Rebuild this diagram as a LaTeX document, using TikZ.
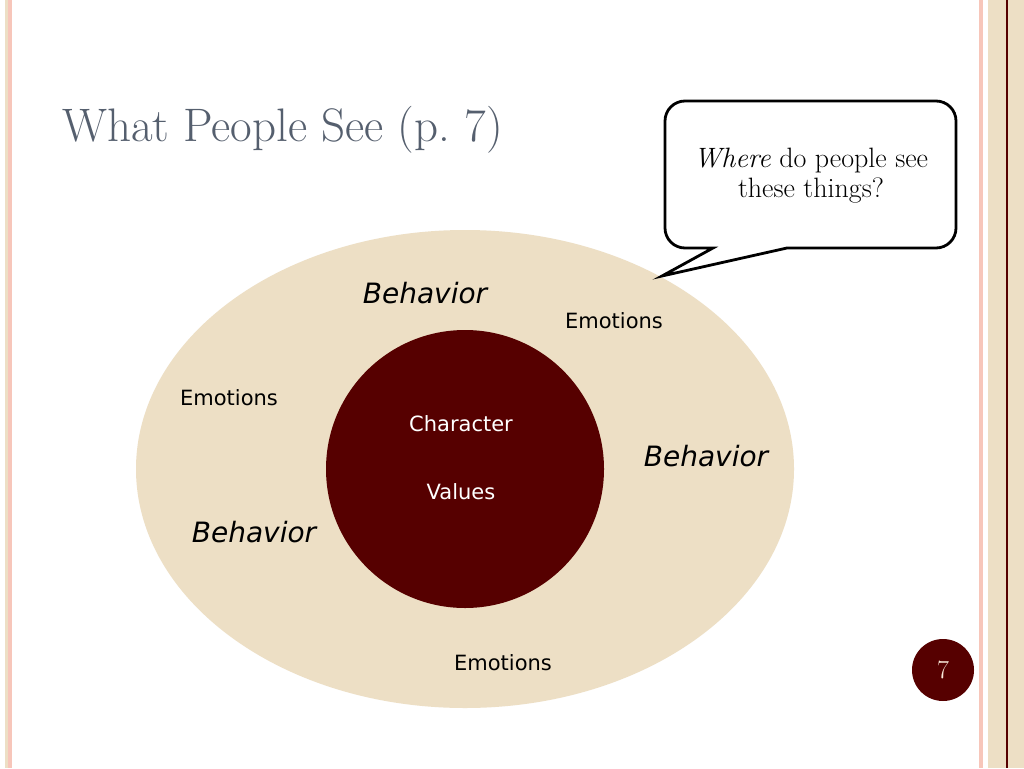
\documentclass[tikz,border=0pt]{standalone}
\usepackage{fontspec}
\setsansfont{DejaVu Sans}
\usetikzlibrary{shapes.geometric}
\definecolor{maroon}{RGB}{86,0,0}
\definecolor{sand}{RGB}{237,223,197}
\definecolor{pinkline}{RGB}{247,198,186}
\definecolor{titlegray}{RGB}{85,95,110}
\definecolor{numwhite}{RGB}{250,235,220}
\tikzset{
  emo/.style={font=\sffamily\fontsize{21}{25}\selectfont, text=black, inner sep=0pt},
  beh/.style={font=\sffamily\itshape\fontsize{28}{32}\selectfont, text=black, inner sep=0pt},
  inner/.style={font=\sffamily\fontsize{21}{25}\selectfont, text=white, inner sep=0pt},
  callout/.style={draw=black, line width=2.8pt, fill=white, line join=miter},
}
\begin{document}
\begin{tikzpicture}[x=1pt,y=-1pt]
\useasboundingbox (0,0) rectangle (1024,768);
\fill[white] (0,0) rectangle (1024,768);
% side decorations
\fill[sand] (5,0) rectangle (8,768);
\fill[pinkline] (8,0) rectangle (12,768);
\fill[pinkline] (979,0) rectangle (983,768);
\fill[sand] (988,0) rectangle (1024,768);
\fill[maroon] (1006,0) rectangle (1008,768);
% title
\node[anchor=west, inner sep=0pt, text=titlegray, font=\fontsize{47}{52}\selectfont] (title) at (62,130) {What People See (p.~7)};
% ellipse and circle
\node[ellipse, fill=sand, minimum width=658pt, minimum height=478pt, inner sep=0pt] (outer) at (465,469) {};
\node[circle, fill=maroon, minimum size=278pt, inner sep=0pt] (core) at (465,469) {};
\node[inner] (char) at (461,424) {Character};
\node[inner] (vals) at (461,492) {Values};
\node[beh] (b1) at (425,293) {Behavior};
\node[beh] (b2) at (706,456) {Behavior};
\node[beh] (b3) at (254,532) {Behavior};
\node[emo] (e1) at (614,321) {Emotions};
\node[emo] (e2) at (229,398) {Emotions};
\node[emo] (e3) at (503,663) {Emotions};
% callout
\coordinate (tip) at (662,276);
\draw[callout] (713,248) [rounded corners=20pt] -- (665,248) -- (665,101) -- (956,101) -- (956,248) [sharp corners] -- (787,248) -- (tip) -- cycle;
\node[align=center, inner sep=0pt, font=\fontsize{28}{30}\selectfont] (q) at (811,176) {\textit{Where} do people see\\these things?};
% page number
\node[circle, fill=maroon, minimum size=62pt, inner sep=0pt, text=numwhite, font=\fontsize{26}{30}\selectfont] (page) at (943,670) {7};
\end{tikzpicture}
\end{document}
